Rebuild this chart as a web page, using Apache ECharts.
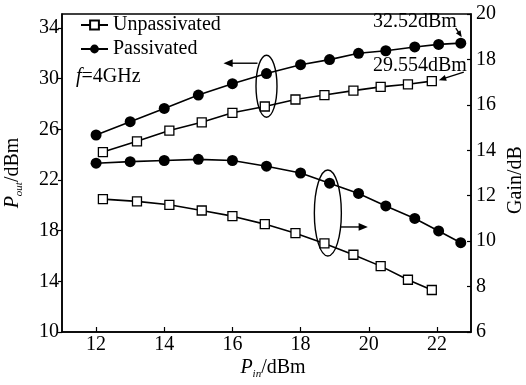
<!DOCTYPE html>
<html><head><meta charset="utf-8">
<script src="https://cdn.jsdelivr.net/npm/echarts@6/dist/echarts.min.js"></script>
<style>html,body{margin:0;padding:0;background:#fff}#c{width:526px;height:385px}</style>
</head><body><div id="c"></div>
<script>
const pinPass = [12, 13, 14, 15, 16, 17, 18, 18.85, 19.7, 20.5, 21.35, 22.05, 22.7];
const poutPass = [25.55, 26.6, 27.65, 28.7, 29.6, 30.4, 31.1, 31.5, 32.0, 32.2, 32.5, 32.7, 32.8];
const gainPass = [13.43, 13.5, 13.55, 13.6, 13.55, 13.3, 13.0, 12.55, 12.1, 11.55, 11.0, 10.45, 9.93];
const pinUnp = [12.2, 13.2, 14.15, 15.1, 16, 16.95, 17.85, 18.7, 19.55, 20.35, 21.15, 21.85];
const poutUnp = [24.2, 25.05, 25.9, 26.55, 27.3, 27.8, 28.35, 28.7, 29.05, 29.35, 29.55, 29.8];
const gainUnp = [11.85, 11.75, 11.6, 11.35, 11.1, 10.75, 10.35, 9.9, 9.4, 8.9, 8.3, 7.85];
const xTicks = [12, 14, 16, 18, 20, 22];
const yLeftTicks = [10, 14, 18, 22, 26, 30, 34];
const yRightTicks = [6, 8, 10, 12, 14, 16, 18, 20];
const legendNames = ['Unpassivated', 'Passivated'];

const FONT = "'Liberation Serif','Times New Roman',serif";
const FS = 20;
const zip = (a, b) => a.map((v, i) => [v, b[i]]);
const chart = echarts.init(document.getElementById('c'));

const circleStyle = {
  type: 'line', symbol: 'circle', symbolSize: 11,
  lineStyle: { color: '#000', width: 1.6 },
  itemStyle: { color: '#000' }, z: 3
};
const rectStyle = {
  type: 'line', symbol: 'rect', symbolSize: 9,
  lineStyle: { color: '#000', width: 1.6 },
  itemStyle: { color: '#fff', borderColor: '#000', borderWidth: 1.3 }, z: 3
};

const option = {
  animation: false,
  backgroundColor: '#fff',
  textStyle: { fontFamily: FONT, color: '#000' },
  grid: { left: 62, right: 55, top: 14, bottom: 53, show: true, borderColor: '#000', borderWidth: 1.5 },
  legend: {
    data: legendNames, orient: 'vertical', left: 80, top: 15, itemGap: 4, padding: 0,
    itemWidth: 27, itemHeight: 11,
    textStyle: { fontFamily: FONT, fontSize: FS, color: '#000', padding: [0, 0, 0, 0] }
  },
  xAxis: {
    type: 'value', min: 11, max: 23,
    axisLine: { lineStyle: { color: '#000', width: 1.5 } },
    axisTick: { inside: true, length: 5, customValues: xTicks, lineStyle: { color: '#000', width: 1.2 } },
    axisLabel: { customValues: xTicks, fontFamily: FONT, fontSize: FS, color: '#000', margin: 3 },
    splitLine: { show: false }
  },
  yAxis: [
    {
      type: 'value', min: 10, max: 35.1, position: 'left',
      axisLine: { show: true, lineStyle: { color: '#000', width: 1.5 } },
      axisTick: { show: true, inside: false, length: 4, customValues: yLeftTicks, lineStyle: { color: '#000', width: 1.2 } },
      axisLabel: { customValues: yLeftTicks, fontFamily: FONT, fontSize: FS, color: '#000', margin: 3 },
      splitLine: { show: false }
    },
    {
      type: 'value', min: 6, max: 20, position: 'right',
      axisLine: { show: true, lineStyle: { color: '#000', width: 1.5 } },
      axisTick: { show: true, inside: true, length: 4, customValues: yRightTicks, lineStyle: { color: '#000', width: 1.2 } },
      axisLabel: { customValues: yRightTicks, fontFamily: FONT, fontSize: FS, color: '#000', margin: 5 },
      splitLine: { show: false }
    }
  ],
  series: [
    Object.assign({ name: 'Unpassivated', yAxisIndex: 0, data: zip(pinUnp, poutUnp) }, rectStyle),
    Object.assign({ name: 'Passivated', yAxisIndex: 0, data: zip(pinPass, poutPass) }, circleStyle),
    Object.assign({ name: 'Passivated', yAxisIndex: 1, data: zip(pinPass, gainPass) }, circleStyle),
    Object.assign({ name: 'Unpassivated', yAxisIndex: 1, data: zip(pinUnp, gainUnp) }, rectStyle)
  ]
};
chart.setOption(option);

const px = (x, y, yi) => chart.convertToPixel({ xAxisIndex: 0, yAxisIndex: yi }, [x, y]);
const lineEl = (x1, y1, x2, y2) => ({ type: 'line', shape: { x1, y1, x2, y2 }, style: { stroke: '#000', lineWidth: 1.4 }, z: 10 });
const head = (x, y, ang, len) => {
  const a1 = ang + 0.4, a2 = ang - 0.4;
  return { type: 'polygon', shape: { points: [[x, y], [x - len * Math.cos(a1), y - len * Math.sin(a1)], [x - len * Math.cos(a2), y - len * Math.sin(a2)]] }, style: { fill: '#000' }, z: 10 };
};
const arrow = (x1, y1, x2, y2, len) => {
  const ang = Math.atan2(y2 - y1, x2 - x1);
  return [lineEl(x1, y1, x2 - len * 0.7 * Math.cos(ang), y2 - len * 0.7 * Math.sin(ang)), head(x2, y2, ang, len)];
};
const sub = { fontSize: 11, fontFamily: FONT, fontStyle: 'italic', verticalAlign: 'bottom', lineHeight: 24, fill: '#000' };
const base = { fontSize: FS, fontFamily: FONT, lineHeight: 24, fill: '#000' };
const ital = Object.assign({}, base, { fontStyle: 'italic' });

const e1 = px(17, 29.4, 0);
const e2 = px(18.8, 11.24, 1);
const lastP = px(pinPass[pinPass.length - 1], poutPass[poutPass.length - 1], 0);
const lastU = px(pinUnp[pinUnp.length - 1], poutUnp[poutUnp.length - 1], 0);

const g = [
  { type: 'ellipse', shape: { cx: e1[0], cy: e1[1], rx: 10.5, ry: 31 }, style: { fill: 'none', stroke: '#000', lineWidth: 1.4 }, z: 10 },
  { type: 'ellipse', shape: { cx: e2[0], cy: e2[1], rx: 13.5, ry: 43 }, style: { fill: 'none', stroke: '#000', lineWidth: 1.4 }, z: 10 },
  ...arrow(e1[0] - 9, e1[1] - 23, e1[0] - 43, e1[1] - 23, 10),
  ...arrow(e2[0] + 13, e2[1] + 14, e2[0] + 40, e2[1] + 14, 10),
  { type: 'text', x: lastP[0] - 4, y: lastP[1] - 21, style: { text: '32.52dBm', font: FS + 'px ' + FONT, fill: '#000', align: 'right', verticalAlign: 'middle' }, z: 10 },
  ...arrow(lastP[0] - 5, lastP[1] - 15, lastP[0] + 1, lastP[1] - 6, 7),
  { type: 'text', x: lastU[0] + 35, y: lastU[1] - 15, style: { text: '29.554dBm', font: FS + 'px ' + FONT, fill: '#000', align: 'right', verticalAlign: 'middle' }, z: 10 },
  ...arrow(lastU[0] + 32, lastU[1] - 9, lastU[0] + 7, lastU[1] - 1, 8),
  { type: 'text', x: 76, y: 77, style: { text: '{i|f}{b|=4GHz}', rich: { i: ital, b: base }, verticalAlign: 'middle' }, z: 10 },
  { type: 'text', x: 13, y: 173, rotation: Math.PI / 2, style: { text: '{i|P}{s|out}{b|/dBm}', rich: { i: ital, s: sub, b: base }, align: 'center', verticalAlign: 'middle' }, z: 10 },
  { type: 'text', x: 273, y: 368, style: { text: '{i|P}{s|in}{b|/dBm}', rich: { i: ital, s: sub, b: base }, align: 'center', verticalAlign: 'middle' }, z: 10 },
  { type: 'text', x: 516, y: 180, rotation: Math.PI / 2, style: { text: 'Gain/dB', font: FS + 'px ' + FONT, fill: '#000', align: 'center', verticalAlign: 'middle' }, z: 10 }
];
chart.setOption({ graphic: g });
</script>
</body></html>
